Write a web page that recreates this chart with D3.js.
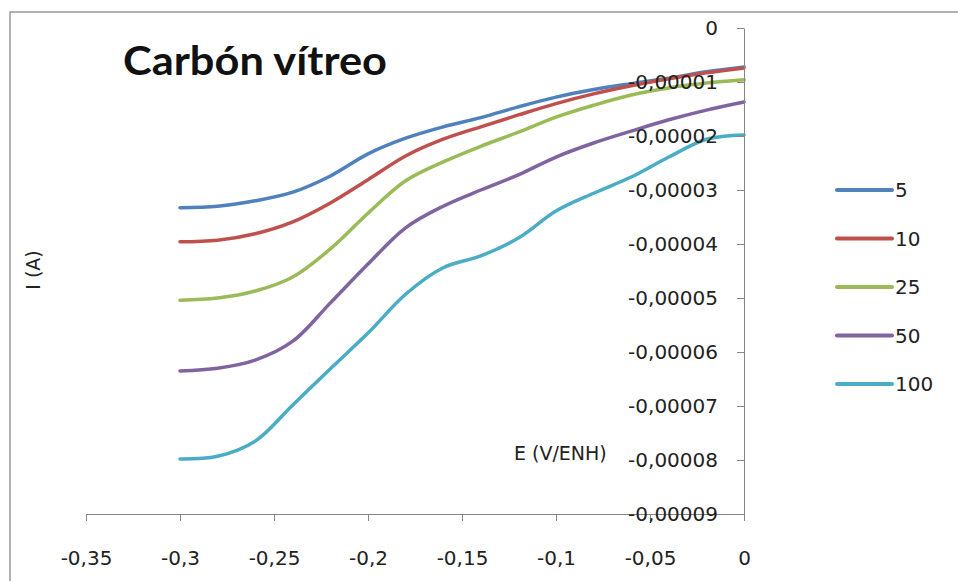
<!DOCTYPE html>
<html>
<head>
<meta charset="utf-8">
<script src="https://cdn.jsdelivr.net/npm/d3@7"></script>
<style>
  body { margin: 0; background: #fff; }
  svg text { font-family: "DejaVu Sans", Verdana, sans-serif; }
</style>
</head>
<body>
<svg id="screen" width="958" height="581"></svg>
<script>
const screenEl = document.querySelector("#screen");

// data (E in V/ENH, I in A)
const potentials = [-0.3, -0.28, -0.26, -0.24, -0.22, -0.2, -0.18, -0.16, -0.14, -0.12, -0.1, -0.08, -0.06, -0.04, -0.02, 0];
const seriesNames = ["5", "10", "25", "50", "100"];
const i5   = [-3.33e-5, -3.30e-5, -3.20e-5, -3.04e-5, -2.74e-5, -2.33e-5, -2.04e-5, -1.83e-5, -1.66e-5, -1.46e-5, -1.28e-5, -1.14e-5, -1.03e-5, -0.93e-5, -0.81e-5, -0.72e-5];
const i10  = [-3.96e-5, -3.93e-5, -3.81e-5, -3.59e-5, -3.24e-5, -2.81e-5, -2.37e-5, -2.06e-5, -1.83e-5, -1.61e-5, -1.40e-5, -1.22e-5, -1.07e-5, -0.94e-5, -0.83e-5, -0.74e-5];
const i25  = [-5.04e-5, -5.00e-5, -4.87e-5, -4.61e-5, -4.09e-5, -3.43e-5, -2.83e-5, -2.48e-5, -2.19e-5, -1.93e-5, -1.65e-5, -1.43e-5, -1.24e-5, -1.11e-5, -1.02e-5, -0.96e-5];
const i50  = [-6.35e-5, -6.30e-5, -6.15e-5, -5.80e-5, -5.09e-5, -4.37e-5, -3.70e-5, -3.30e-5, -3.00e-5, -2.72e-5, -2.39e-5, -2.13e-5, -1.91e-5, -1.70e-5, -1.52e-5, -1.37e-5];
const i100 = [-7.98e-5, -7.93e-5, -7.65e-5, -6.98e-5, -6.31e-5, -5.65e-5, -4.93e-5, -4.44e-5, -4.22e-5, -3.89e-5, -3.39e-5, -3.06e-5, -2.76e-5, -2.39e-5, -2.06e-5, -1.98e-5];
const xTicks = [-0.35, -0.3, -0.25, -0.2, -0.15, -0.1, -0.05, 0];
const yTicks = [0, -1e-5, -2e-5, -3e-5, -4e-5, -5e-5, -6e-5, -7e-5, -8e-5, -9e-5];

const colors = ["#4F81BD", "#C0504D", "#9BBB59", "#8064A2", "#4BACC6"];
const allSeries = [i5, i10, i25, i50, i100];

const locale = d3.formatLocale({decimal: ",", thousands: ".", grouping: [3], currency: ["", ""], minus: "-"});

var svg = d3.select(screenEl);

// outer frame
svg.append("rect").attr("x", 10).attr("y", 12).attr("width", 1000).attr("height", 1000)
.attr("fill", "#fff").attr("stroke", "#999").attr("stroke-width", 1.5);

var x = d3.scaleLinear().domain([-0.35, 0]).range([86, 744]);
var y = d3.scaleLinear().domain([-9e-5, 0]).range([514, 28]);

// curves
var line = d3.line().x(d => x(d[0])).y(d => y(d[1])).curve(d3.curveCatmullRom.alpha(0.5));
svg.append("g").selectAll("path").data(allSeries).join("path")
.attr("d", s => line(s.map((v, i) => [potentials[i], v])))
.attr("fill", "none").attr("stroke", (s, i) => colors[i])
.attr("stroke-width", 3.5).attr("stroke-linecap", "round");

// axes
var xAxis = svg.append("g").attr("transform", "translate(0," + y(-9e-5) + ")")
.call(d3.axisBottom(x).tickValues(xTicks).tickSize(7).tickSizeOuter(0).tickPadding(30)
  .tickFormat(locale.format(".2~f")));
var yAxis = svg.append("g").attr("transform", "translate(" + x(0) + ",0)")
.call(d3.axisLeft(y).tickValues(yTicks).tickSize(7).tickSizeOuter(0).tickPadding(19)
  .tickFormat(locale.format(".5~f")));
svg.selectAll(".domain, .tick line").attr("stroke", "#868686");
svg.selectAll(".tick text").attr("fill", "#222").style("font-size", "20px")
.style("font-family", "'DejaVu Sans', Verdana, sans-serif");

// axis titles
svg.append("text").attr("x", 514).attr("y", 460).attr("font-size", 19).attr("fill", "#222")
.text("E (V/ENH)");
svg.append("text").attr("transform", "translate(40,270) rotate(-90)").attr("text-anchor", "middle")
.attr("font-size", 19).attr("fill", "#222").text("I (A)");

// title
svg.append("text").attr("x", 123).attr("y", 75).attr("font-size", 40).attr("font-weight", "bold")
.attr("textLength", 264).attr("lengthAdjust", "spacingAndGlyphs")
.style("font-family", "Lato, 'Open Sans', sans-serif").attr("fill", "#111").text("Carbón vítreo");

// legend
var legend = svg.append("g").selectAll("g").data(seriesNames).join("g")
.attr("transform", (d, i) => "translate(837," + (190 + i * 48.5) + ")");
legend.append("line").attr("x1", 0).attr("x2", 55).attr("stroke", (d, i) => colors[i])
.attr("stroke-width", 4).attr("stroke-linecap", "round");
legend.append("text").attr("x", 58).attr("y", 7).attr("font-size", 20).attr("fill", "#222").text(d => d);
</script>
</body>
</html>
